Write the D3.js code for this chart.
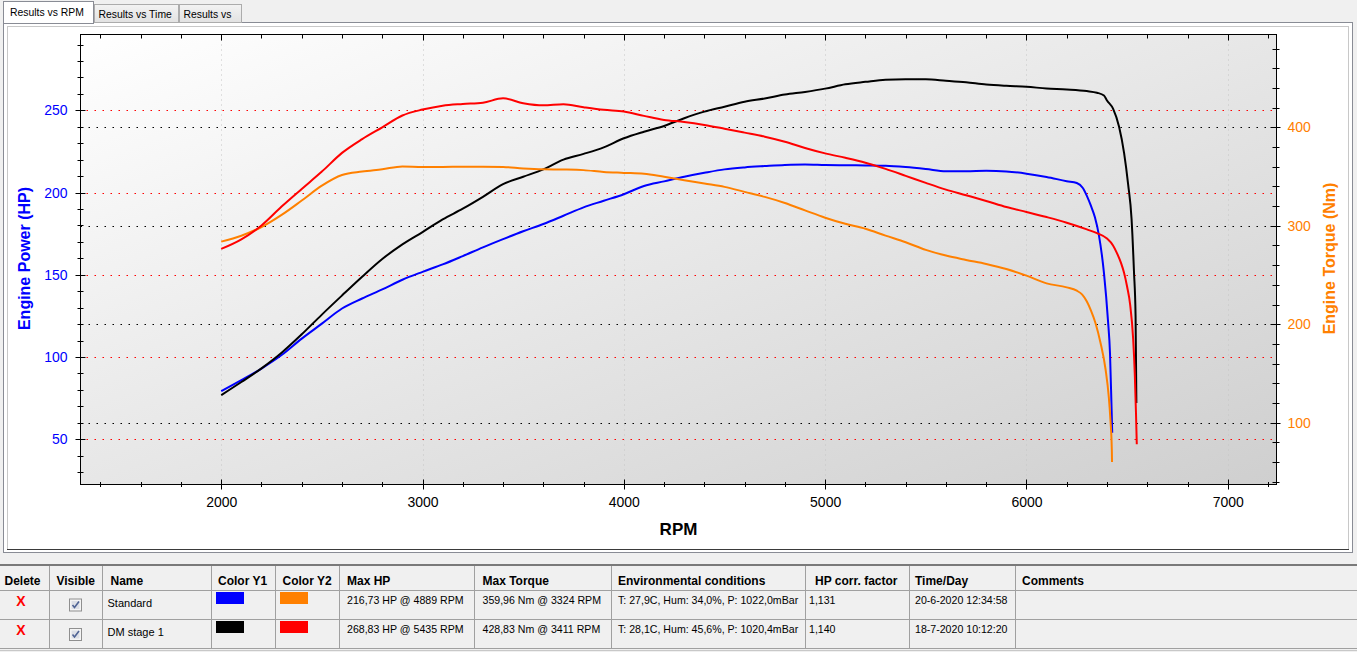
<!DOCTYPE html>
<html>
<head>
<meta charset="utf-8">
<script src="https://cdn.jsdelivr.net/npm/d3@7"></script>
<style>
body { margin: 0; background: #f0f0f0; overflow: hidden; }
svg { display: block; font-family: "Liberation Sans", Arial, sans-serif; }
</style>
</head>
<body>
<div id="chart"></div>
<script>
// ---- data ----
// [rpm, HP] and [rpm, Nm] per run
const standardPower = [[2000,79.3],[2100,86],[2200,93],[2300,101.2],[2400,111.2],[2500,120.3],[2600,129.5],[2700,135.6],[2800,141.1],[2900,147],[3000,151.8],[3100,156.3],[3200,161.4],[3300,166.7],[3400,171.7],[3500,176.5],[3600,180.9],[3700,185.9],[3800,191],[3900,195],[4000,199],[4100,204],[4200,206.8],[4300,209.6],[4400,212],[4500,214.1],[4600,215.3],[4700,216.1],[4800,216.8],[4900,217.1],[5000,216.8],[5100,216.6],[5200,216.5],[5300,216.3],[5400,215.5],[5500,214.3],[5600,212.9],[5700,212.9],[5800,213.2],[5900,212.8],[6000,211.5],[6100,209.5],[6200,206.9],[6250,205.8],[6280,202.8],[6300,198],[6320,192],[6340,185],[6360,174],[6385,151],[6405,122],[6415,102],[6422,72],[6426,54]];
const standardTorque = [[2000,283.9],[2100,289.9],[2200,298.7],[2300,311],[2400,325.6],[2500,340.7],[2600,351.5],[2700,355],[2800,357.4],[2900,360.2],[3000,359.8],[3100,359.8],[3200,360],[3300,360],[3400,359.8],[3500,358.2],[3600,357.3],[3700,357.1],[3800,356.5],[3900,354.6],[4000,353.7],[4100,352.8],[4200,349.7],[4300,346.3],[4400,342.9],[4500,339.5],[4600,334.4],[4700,329.3],[4800,323.1],[4900,315.6],[5000,308.2],[5100,302],[5200,297],[5300,290],[5400,283.3],[5500,275.5],[5600,269.7],[5700,265.3],[5800,261.2],[5900,256.1],[6000,249.3],[6100,241.5],[6200,237.4],[6250,234],[6277,230],[6300,223],[6320,214],[6343,201],[6368,181],[6393,154],[6409,126],[6417,103],[6424,72],[6425,60]];
const stage1Power = [[2000,76.8],[2100,84.8],[2200,93.1],[2300,102.6],[2400,113.8],[2500,125.8],[2600,137.4],[2700,148.8],[2800,159.6],[2900,168.5],[3000,176],[3100,183.7],[3200,190.2],[3300,197.4],[3400,205.1],[3500,209.6],[3600,214.1],[3700,220],[3800,223.5],[3900,227.5],[4000,233],[4100,237],[4200,240.5],[4300,245.2],[4400,249.2],[4500,252.2],[4600,255.2],[4700,257.2],[4800,259.6],[4900,261.2],[5000,263.2],[5100,265.8],[5200,267.3],[5300,268.6],[5400,268.9],[5500,268.9],[5600,268],[5700,267],[5800,265.7],[5900,264.9],[6000,264.3],[6100,263.3],[6200,262.7],[6300,261.7],[6350,260.7],[6385,259],[6400,256],[6430,251],[6460,240],[6485,224],[6505,205],[6522,184],[6534,152],[6542,125],[6546,72]];
const stage1Torque = [[2000,276.5],[2100,286.2],[2200,300.3],[2300,319.5],[2400,337.4],[2500,355],[2600,374],[2700,388],[2800,400],[2900,412],[3000,418],[3100,422],[3200,423.7],[3300,425],[3400,429.4],[3500,424.5],[3600,422.3],[3700,423.5],[3800,420.4],[3900,417.7],[4000,416],[4100,411.6],[4200,407.5],[4300,405.4],[4400,402.4],[4500,398.6],[4600,394.6],[4700,390.5],[4800,385.4],[4900,379],[5000,373.5],[5100,369],[5200,364],[5300,357.8],[5400,350.7],[5500,343.5],[5600,336.7],[5700,331],[5800,325.2],[5900,319],[6000,314],[6100,308.8],[6200,303.1],[6300,296.3],[6350,292.5],[6400,287],[6430,280],[6450,272],[6470,262],[6485,252],[6500,238],[6515,220],[6530,185],[6538,150],[6544,110],[6548,78]];

// axis ticks
const rpmTicks = [2000, 3000, 4000, 5000, 6000, 7000];
const hpTicks = [50, 100, 150, 200, 250];
const nmTicks = [100, 200, 300, 400];

// tabs + results table
const tabLabels = ["Results vs RPM", "Results vs Time", "Results vs"];
const tableHeaders = ["Delete", "Visible", "Name", "Color Y1", "Color Y2", "Max HP", "Max Torque", "Environmental conditions", "HP corr. factor", "Time/Day", "Comments"];
const runNames = ["Standard", "DM stage 1"];
const maxHp = ["216,73 HP @ 4889 RPM", "268,83 HP @ 5435 RPM"];
const maxTorque = ["359,96 Nm @ 3324 RPM", "428,83 Nm @ 3411 RPM"];
const envConditions = ["T: 27,9C, Hum: 34,0%, P: 1022,0mBar", "T: 28,1C, Hum: 45,6%, P: 1020,4mBar"];
const corrFactor = ["1,131", "1,140"];
const timeDay = ["20-6-2020 12:34:58", "18-7-2020 10:12:20"];

// ---- layout ----
var W = 1357, H = 652;
var plot = {left: 80.5, right: 1276.5, top: 34.5, bottom: 484.5};
var colorY1 = ["#0000ff", "#000000"];
var colorY2 = ["#ff8000", "#ff0000"];

var svg = d3.select("#chart").append("svg")
  .attr("width", W)
  .attr("height", H);

var defs = svg.append("defs");
var grad = defs.append("linearGradient").attr("id", "plotbg")
  .attr("x1", 0).attr("y1", 0).attr("x2", 1).attr("y2", 1);
grad.append("stop").attr("offset", "0%").attr("stop-color", "#ffffff");
grad.append("stop").attr("offset", "100%").attr("stop-color", "#cfcfcf");
var tabGrad = defs.append("linearGradient").attr("id", "tabbg")
  .attr("x1", 0).attr("y1", 0).attr("x2", 0).attr("y2", 1);
tabGrad.append("stop").attr("offset", "0%").attr("stop-color", "#f3f3f3");
tabGrad.append("stop").attr("offset", "100%").attr("stop-color", "#e2e2e2");

// ---- tab control ----
svg.append("rect")
  .attr("x", 3.5).attr("y", 22.5).attr("width", 1349).attr("height", 530)
  .attr("fill", "#ffffff").attr("stroke", "#898c95");

var tabX = [[94.5, 84], [179.5, 62]];
tabX.forEach(function(t, i) {
  svg.append("rect")
    .attr("x", t[0]).attr("y", 4.5).attr("width", t[1]).attr("height", 18)
    .attr("fill", "url(#tabbg)").attr("stroke", "#acacac");
  svg.append("text")
    .attr("x", t[0] + 4).attr("y", 17.5)
    .attr("font-size", "10.4px").attr("fill", "#000")
    .text(tabLabels[i + 1]);
});
svg.append("rect")
  .attr("x", 3.5).attr("y", 1.5).attr("width", 90).attr("height", 22)
  .attr("fill", "#ffffff").attr("stroke", "#898c95");
svg.append("line")
  .attr("x1", 4).attr("x2", 93).attr("y1", 22.5).attr("y2", 22.5)
  .attr("stroke", "#ffffff");
svg.append("text")
  .attr("x", 10).attr("y", 16)
  .attr("font-size", "10.4px").attr("fill", "#000")
  .text(tabLabels[0]);

// chart panel
svg.append("rect")
  .attr("x", 7.5).attr("y", 26.5).attr("width", 1341).attr("height", 523)
  .attr("fill", "#ffffff").attr("stroke", "#c8c8c8");
svg.append("line")
  .attr("x1", 7).attr("x2", 1349).attr("y1", 549.5).attr("y2", 549.5)
  .attr("stroke", "#3a3a3a");

// ---- scales ----
var x = d3.scaleLinear().domain([1301, 7242]).range([plot.left, plot.right]);
var yHp = d3.scaleLinear().domain([22.5, 296.1]).range([plot.bottom, plot.top]);
var yNm = d3.scaleLinear().domain([37.2, 494.25]).range([plot.bottom, plot.top]);

var g = svg.append("g");

g.append("rect")
  .attr("x", plot.left).attr("y", plot.top)
  .attr("width", plot.right - plot.left).attr("height", plot.bottom - plot.top)
  .attr("fill", "url(#plotbg)");

// grid
g.selectAll(".vgrid").data(rpmTicks).enter().append("line")
  .attr("class", "vgrid")
  .attr("x1", function(d) { return Math.round(x(d)) + 0.5; })
  .attr("x2", function(d) { return Math.round(x(d)) + 0.5; })
  .attr("y1", plot.top).attr("y2", plot.bottom)
  .attr("stroke", "#c4c4c4").attr("stroke-dasharray", "1,4");

g.selectAll(".hpgrid").data(hpTicks).enter().append("line")
  .attr("class", "hpgrid")
  .attr("x1", plot.left + 6).attr("x2", plot.right)
  .attr("y1", function(d) { return Math.round(yHp(d)) + 0.5; })
  .attr("y2", function(d) { return Math.round(yHp(d)) + 0.5; })
  .attr("stroke", "#ff0000").attr("stroke-width", 1.2)
  .attr("stroke-dasharray", "1.5,6.5");

g.selectAll(".nmgrid").data(nmTicks).enter().append("line")
  .attr("class", "nmgrid")
  .attr("x1", plot.left).attr("x2", plot.right - 6)
  .attr("y1", function(d) { return Math.round(yNm(d)) + 0.5; })
  .attr("y2", function(d) { return Math.round(yNm(d)) + 0.5; })
  .attr("stroke", "#000000").attr("stroke-width", 1.2)
  .attr("stroke-dasharray", "1.5,6.5");

// curves
var powerLine = d3.line()
  .x(function(d) { return x(d[0]); })
  .y(function(d) { return yHp(d[1]); })
  .curve(d3.curveMonotoneX);
var torqueLine = d3.line()
  .x(function(d) { return x(d[0]); })
  .y(function(d) { return yNm(d[1]); })
  .curve(d3.curveMonotoneX);

var curves = [
  [standardPower, powerLine, colorY1[0]],
  [stage1Power, powerLine, colorY1[1]],
  [standardTorque, torqueLine, colorY2[0]],
  [stage1Torque, torqueLine, colorY2[1]]
];
curves.forEach(function(c) {
  g.append("path")
    .datum(c[0])
    .attr("fill", "none")
    .attr("stroke", c[2])
    .attr("stroke-width", 2)
    .attr("d", c[1]);
});

// frame
g.append("rect")
  .attr("x", plot.left).attr("y", plot.top)
  .attr("width", plot.right - plot.left).attr("height", plot.bottom - plot.top)
  .attr("fill", "none").attr("stroke", "#000");

// tick marks (cross the frame)
function isMajor(list, v) { return list.indexOf(v) >= 0; }
var rpmMinor = d3.range(1400, 7201, 200);
var hpMinor = d3.range(30, 291, 10);
var nmMinor = d3.range(40, 481, 20);

g.selectAll(".btick").data(rpmMinor).enter().append("line")
  .attr("x1", function(d) { return Math.round(x(d)) + 0.5; })
  .attr("x2", function(d) { return Math.round(x(d)) + 0.5; })
  .attr("y1", function(d) { return plot.bottom - (isMajor(rpmTicks, d) ? 5 : 2.5); })
  .attr("y2", function(d) { return plot.bottom + (isMajor(rpmTicks, d) ? 5 : 2.5); })
  .attr("stroke", "#000");
g.selectAll(".ttick").data(rpmMinor).enter().append("line")
  .attr("x1", function(d) { return Math.round(x(d)) + 0.5; })
  .attr("x2", function(d) { return Math.round(x(d)) + 0.5; })
  .attr("y1", plot.top)
  .attr("y2", function(d) { return plot.top + (isMajor(rpmTicks, d) ? 6 : 4); })
  .attr("stroke", "#000");
g.selectAll(".ltick").data(hpMinor).enter().append("line")
  .attr("y1", function(d) { return Math.round(yHp(d)) + 0.5; })
  .attr("y2", function(d) { return Math.round(yHp(d)) + 0.5; })
  .attr("x1", function(d) { return plot.left - (isMajor(hpTicks, d) ? 5 : 3); })
  .attr("x2", function(d) { return plot.left + (isMajor(hpTicks, d) ? 5 : 3); })
  .attr("stroke", "#000");
g.selectAll(".rtick").data(nmMinor).enter().append("line")
  .attr("y1", function(d) { return Math.round(yNm(d)) + 0.5; })
  .attr("y2", function(d) { return Math.round(yNm(d)) + 0.5; })
  .attr("x1", function(d) { return plot.right - (isMajor(nmTicks, d) ? 6 : 4); })
  .attr("x2", function(d) { return plot.right + (isMajor(nmTicks, d) ? 4 : 3); })
  .attr("stroke", "#000");

// tick labels via d3 axes
var xAxis = g.append("g")
  .attr("transform", "translate(0," + plot.bottom + ")")
  .call(d3.axisBottom(x).tickValues(rpmTicks).tickFormat(d3.format("d")).tickSize(0).tickPadding(13));
var lAxis = g.append("g")
  .attr("transform", "translate(" + plot.left + ",0)")
  .call(d3.axisLeft(yHp).tickValues(hpTicks).tickFormat(d3.format("d")).tickSize(0).tickPadding(13));
var rAxis = g.append("g")
  .attr("transform", "translate(" + plot.right + ",0)")
  .call(d3.axisRight(yNm).tickValues(nmTicks).tickFormat(d3.format("d")).tickSize(0).tickPadding(11));

[xAxis, lAxis, rAxis].forEach(function(a) {
  a.select(".domain").remove();
  a.selectAll("text").attr("font-family", "Liberation Sans, Arial, sans-serif").attr("font-size", "14px");
});
xAxis.selectAll("text").attr("fill", "#000");
lAxis.selectAll("text").attr("fill", "#0000ff");
rAxis.selectAll("text").attr("fill", "#ff8000");

// axis titles
g.append("text")
  .attr("x", (plot.left + plot.right) / 2).attr("y", 535)
  .attr("text-anchor", "middle")
  .attr("font-size", "17px").attr("font-weight", "bold")
  .text("RPM");
g.append("text")
  .attr("transform", "translate(30,258.5) rotate(-90)")
  .attr("text-anchor", "middle")
  .attr("font-size", "16px").attr("font-weight", "bold")
  .attr("fill", "#0000ff")
  .text("Engine Power (HP)");
g.append("text")
  .attr("transform", "translate(1334.5,258.5) rotate(-90)")
  .attr("text-anchor", "middle")
  .attr("font-size", "16px").attr("font-weight", "bold")
  .attr("fill", "#ff8000")
  .text("Engine Torque (Nm)");

// ---- results table ----
var colX = [0, 48.6, 102, 211.2, 275.4, 339.1, 474, 610.6, 805.2, 908.8, 1014.6, 1357];
var headX = [4.5, 56.5, 110.5, 218, 282.5, 347, 482.5, 618, 815, 915, 1022];
var rowY = [566, 590, 619, 648];

var table = svg.append("g");
table.append("rect")
  .attr("x", 0).attr("y", rowY[0]).attr("width", W).attr("height", rowY[3] - rowY[0])
  .attr("fill", "#f0f0f0");
table.append("line")
  .attr("x1", 0).attr("x2", W).attr("y1", 565).attr("y2", 565)
  .attr("stroke", "#7a7a7a").attr("stroke-width", 2);

// row borders
table.selectAll(".hline").data(rowY.slice(1)).enter().append("line")
  .attr("x1", 0).attr("x2", W)
  .attr("y1", function(d) { return d + 0.5; })
  .attr("y2", function(d) { return d + 0.5; })
  .attr("stroke", "#a0a0a0");
table.selectAll(".vline").data(colX.slice(1, -1)).enter().append("line")
  .attr("x1", function(d) { return Math.round(d) + 0.5; })
  .attr("x2", function(d) { return Math.round(d) + 0.5; })
  .attr("y1", rowY[0]).attr("y2", rowY[3])
  .attr("stroke", "#a0a0a0");
table.append("line")
  .attr("x1", 0).attr("x2", W).attr("y1", 650.5).attr("y2", 650.5)
  .attr("stroke", "#c8c8c8");

table.selectAll(".head").data(tableHeaders).enter().append("text")
  .attr("x", function(d, i) { return headX[i]; })
  .attr("y", 584.5)
  .attr("font-size", "12px").attr("font-weight", "bold")
  .text(function(d) { return d; });

var rowBase = [603.5, 632.5];
runNames.forEach(function(name, i) {
  var base = rowBase[i];
  table.append("text")
    .attr("x", 21).attr("y", base + 2.5)
    .attr("text-anchor", "middle")
    .attr("font-size", "14px").attr("font-weight", "bold")
    .attr("fill", "#ff0000")
    .text("X");
  // checkbox
  var cb = table.append("g").attr("transform", "translate(69.5," + (base - 4.5 + i * 0.5) + ")");
  cb.append("rect").attr("width", 12).attr("height", 12)
    .attr("fill", "#f4f4f4").attr("stroke", "#8f8f8f");
  cb.append("rect").attr("x", 2).attr("y", 2).attr("width", 8).attr("height", 8)
    .attr("fill", "#dcdfe6");
  cb.append("path").attr("d", "M3,6 L5,8.5 L9.5,2.5")
    .attr("fill", "none").attr("stroke", "#4f6394").attr("stroke-width", 1.6);
  table.append("text")
    .attr("x", 107.5).attr("y", base + 3)
    .attr("font-size", "11px")
    .text(name);
  table.append("rect")
    .attr("x", 216).attr("y", base - 11.5).attr("width", 28).attr("height", 12)
    .attr("fill", colorY1[i]);
  table.append("rect")
    .attr("x", 280).attr("y", base - 11.5).attr("width", 28).attr("height", 12)
    .attr("fill", colorY2[i]);
  var cells = [[347, maxHp[i]], [482.5, maxTorque[i]], [618, envConditions[i]], [809, corrFactor[i]], [915, timeDay[i]]];
  cells.forEach(function(c) {
    table.append("text")
      .attr("x", c[0]).attr("y", base)
      .attr("font-size", "10.6px")
      .text(c[1]);
  });
});
</script>
</body>
</html>
